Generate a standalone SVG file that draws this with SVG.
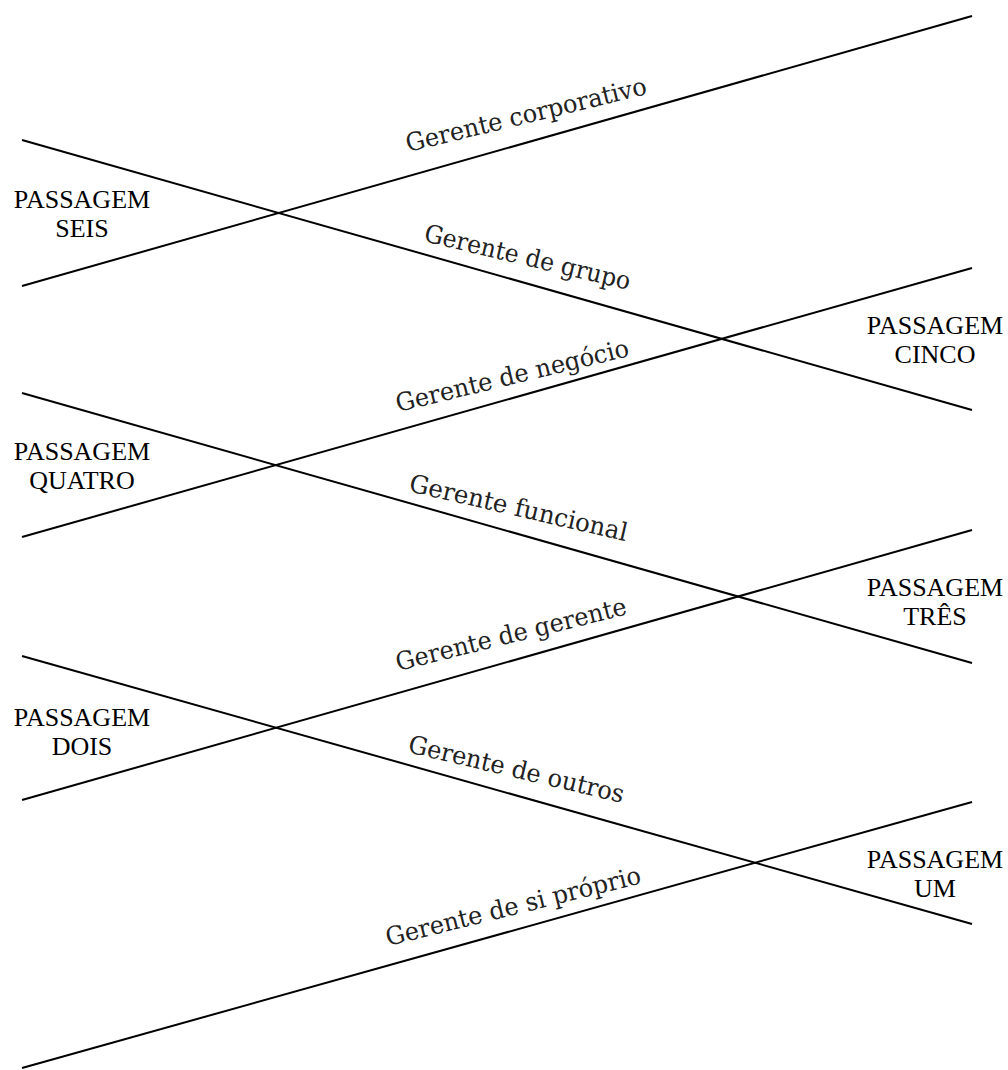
<svg xmlns="http://www.w3.org/2000/svg" width="1008" height="1070" viewBox="0 0 1008 1070">
  <style>
    .ln { stroke: #000; stroke-width: 2; fill: none; }
    .stage { font-family: "Liberation Serif", "Times New Roman", serif; font-size: 26px; fill: #000; text-anchor: middle; }
    .role { font-family: "DejaVu Serif", "Liberation Serif", serif; font-size: 25px; fill: #222; }
  </style>
  <rect width="1008" height="1070" fill="#fff"/>

  <!-- zig-zag ladder lines -->
  <g id="connectors">
    <line class="ln" x1="22" y1="286" x2="972" y2="16"/>
    <line class="ln" x1="22" y1="140" x2="972" y2="410"/>
    <line class="ln" x1="22" y1="537" x2="972" y2="268"/>
    <line class="ln" x1="22" y1="393" x2="972" y2="663"/>
    <line class="ln" x1="22" y1="800" x2="972" y2="530"/>
    <line class="ln" x1="22" y1="656" x2="972" y2="924"/>
    <line class="ln" x1="22" y1="1068" x2="972" y2="802"/>
  </g>

  <!-- role labels along the lines -->
  <g id="role-corporativo"><text class="role" transform="translate(408,152) rotate(-13.6)" textLength="247" lengthAdjust="spacingAndGlyphs">Gerente corporativo</text></g>
  <g id="role-grupo"><text class="role" transform="translate(423,241) rotate(13.4)" textLength="211" lengthAdjust="spacingAndGlyphs">Gerente de grupo</text></g>
  <g id="role-negocio"><text class="role" transform="translate(398,412) rotate(-13.6)" textLength="239" lengthAdjust="spacingAndGlyphs">Gerente de negócio</text></g>
  <g id="role-funcional"><text class="role" transform="translate(408,491) rotate(13.0)" textLength="223" lengthAdjust="spacingAndGlyphs">Gerente funcional</text></g>
  <g id="role-gerente"><text class="role" transform="translate(398,671) rotate(-13.9)" textLength="237" lengthAdjust="spacingAndGlyphs">Gerente de gerente</text></g>
  <g id="role-outros"><text class="role" transform="translate(407,752) rotate(13.3)" textLength="221" lengthAdjust="spacingAndGlyphs">Gerente de outros</text></g>
  <g id="role-proprio"><text class="role" transform="translate(388,946) rotate(-13.9)" textLength="262" lengthAdjust="spacingAndGlyphs">Gerente de si próprio</text></g>

  <!-- passage labels -->
  <g id="passagem-seis"><text class="stage" x="82" y="208">PASSAGEM</text><text class="stage" x="82" y="237">SEIS</text></g>
  <g id="passagem-cinco"><text class="stage" x="935" y="334">PASSAGEM</text><text class="stage" x="935" y="363">CINCO</text></g>
  <g id="passagem-quatro"><text class="stage" x="82" y="460">PASSAGEM</text><text class="stage" x="82" y="489">QUATRO</text></g>
  <g id="passagem-tres"><text class="stage" x="935" y="596">PASSAGEM</text><text class="stage" x="935" y="625">TRÊS</text></g>
  <g id="passagem-dois"><text class="stage" x="82" y="726">PASSAGEM</text><text class="stage" x="82" y="755">DOIS</text></g>
  <g id="passagem-um"><text class="stage" x="935" y="868">PASSAGEM</text><text class="stage" x="935" y="897">UM</text></g>
</svg>
